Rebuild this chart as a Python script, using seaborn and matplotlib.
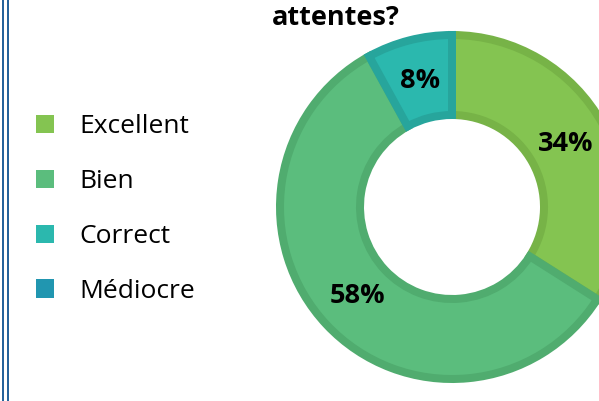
import matplotlib
matplotlib.use("Agg")
import matplotlib.pyplot as plt
from matplotlib.patches import Patch
from matplotlib.lines import Line2D
import numpy as np
import seaborn as sns

# données du graphique
categories = ["Excellent", "Bien", "Correct", "Médiocre"]
valeurs = [34, 58, 8, 0]
couleurs = ["#84C451", "#5BBD7D", "#2BB8AE", "#2196B0"]
bordures = ["#77B347", "#50AC6F", "#27A59C", "#1E87A0"]
titre = "attentes?"

sns.set_theme(style="white")
plt.rcParams["font.family"] = ["Open Sans", "DejaVu Sans"]
plt.rcParams["text.color"] = "black"

fig = plt.figure(figsize=(5.99, 4.01), dpi=100)
W, H = 599, 401
cx, cy, R = 452, 207, 176

ax = fig.add_axes([(cx - R) / W, (H - cy - R) / H, 2 * R / W, 2 * R / H])

lw_px = 8
r_in = lw_px / 2 / R
wedges, _ = ax.pie(
    valeurs, colors=couleurs, startangle=90, counterclock=False,
    radius=1 - r_in,
    wedgeprops=dict(width=0.5 - 2 * r_in, linewidth=lw_px * 0.72, clip_on=False),
)
for w, b, v in zip(wedges, bordures, valeurs):
    w.set_edgecolor(b)
    w.set_joinstyle("miter")
    if v == 0:
        w.set_linewidth(0)
ax.set_xlim(-1, 1)
ax.set_ylim(-1, 1)
ax.set_aspect("equal")
ax.axis("off")

# étiquettes de pourcentage
for w, v in zip(wedges, valeurs):
    if v == 0:
        continue
    ang = np.deg2rad((w.theta1 + w.theta2) / 2)
    ax.text(0.74 * np.cos(ang), 0.74 * np.sin(ang), f"{v}%", ha="center", va="center",
            fontsize=19.5, fontweight="bold", color="black", clip_on=False)

fig.text(336 / W, 1 - 25 / H, titre, ha="center", va="baseline",
         fontsize=19.5, fontweight="bold", color="black")

# légende
handles = [Patch(facecolor=c, edgecolor="none") for c in couleurs]
fig.legend(handles, categories, loc="center left", bbox_to_anchor=(36 / W, 1 - 209 / H),
           frameon=False, fontsize=19, handlelength=0.68, handleheight=0.68,
           handletextpad=0.95, labelspacing=1.13, borderaxespad=0, borderpad=0,
           labelcolor="black")

# bordure bleue double à gauche
for x in (3, 8):
    fig.add_artist(Line2D([x / W, x / W], [0, 1], color="#1F5F99", lw=1.4,
                          transform=fig.transFigure))

fig.savefig("out.png", dpi=100)
